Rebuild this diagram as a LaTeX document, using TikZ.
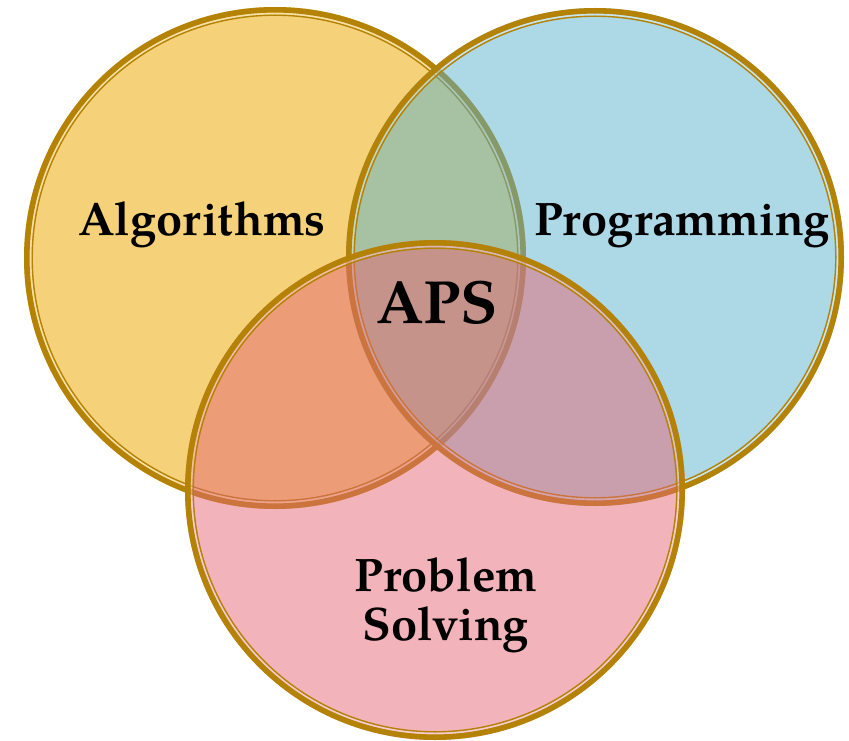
\documentclass[tikz,border=0pt]{standalone}
\usepackage{fontspec}
\setmainfont{TeX Gyre Pagella}
\definecolor{gold}{RGB}{180,130,5}
\definecolor{cA}{RGB}{245,210,122}
\definecolor{cB}{RGB}{91,177,205}
\definecolor{cC}{RGB}{229,103,117}
\tikzset{
  ringouter/.style={draw=gold, line width=5.6pt},
  ringinner/.style={draw=gold, line width=1.4pt},
  ringgap/.style={draw=white, draw opacity=0.35, line width=1.8pt},
  lbl/.style={font=\bfseries\fontsize{47}{49}\selectfont, anchor=base, align=center, inner sep=0pt},
  biglbl/.style={font=\bfseries\fontsize{61}{66}\selectfont, anchor=base, inner sep=0pt}
}
\newcommand\vennset[4]{%
  \fill[#4] (#1,#2) circle[radius=#3];
  \draw[ringgap] (#1,#2) circle[radius=#3-6.5];
  \draw[ringouter] (#1,#2) circle[radius=#3-2.8];
  \draw[ringinner] (#1,#2) circle[radius=#3-8.2];
}
\begin{document}
\begin{tikzpicture}[x=1pt,y=-1pt]
  \useasboundingbox (0,0) rectangle (849,741);
  \vennset{275}{258}{251}{cA}
  \vennset{595}{257}{249}{cB, fill opacity=0.5}
  \vennset{435}{490}{250}{cC, fill opacity=0.5}
  \node[lbl] (alg) at (202,235) {Algorithms};
  \node[lbl] (prog) at (682,235) {Programming};
  \node[biglbl] (aps) at (437,323) {APS};
  \node[lbl] (ps) at (446,640) {Problem\\Solving};
\end{tikzpicture}
\end{document}
